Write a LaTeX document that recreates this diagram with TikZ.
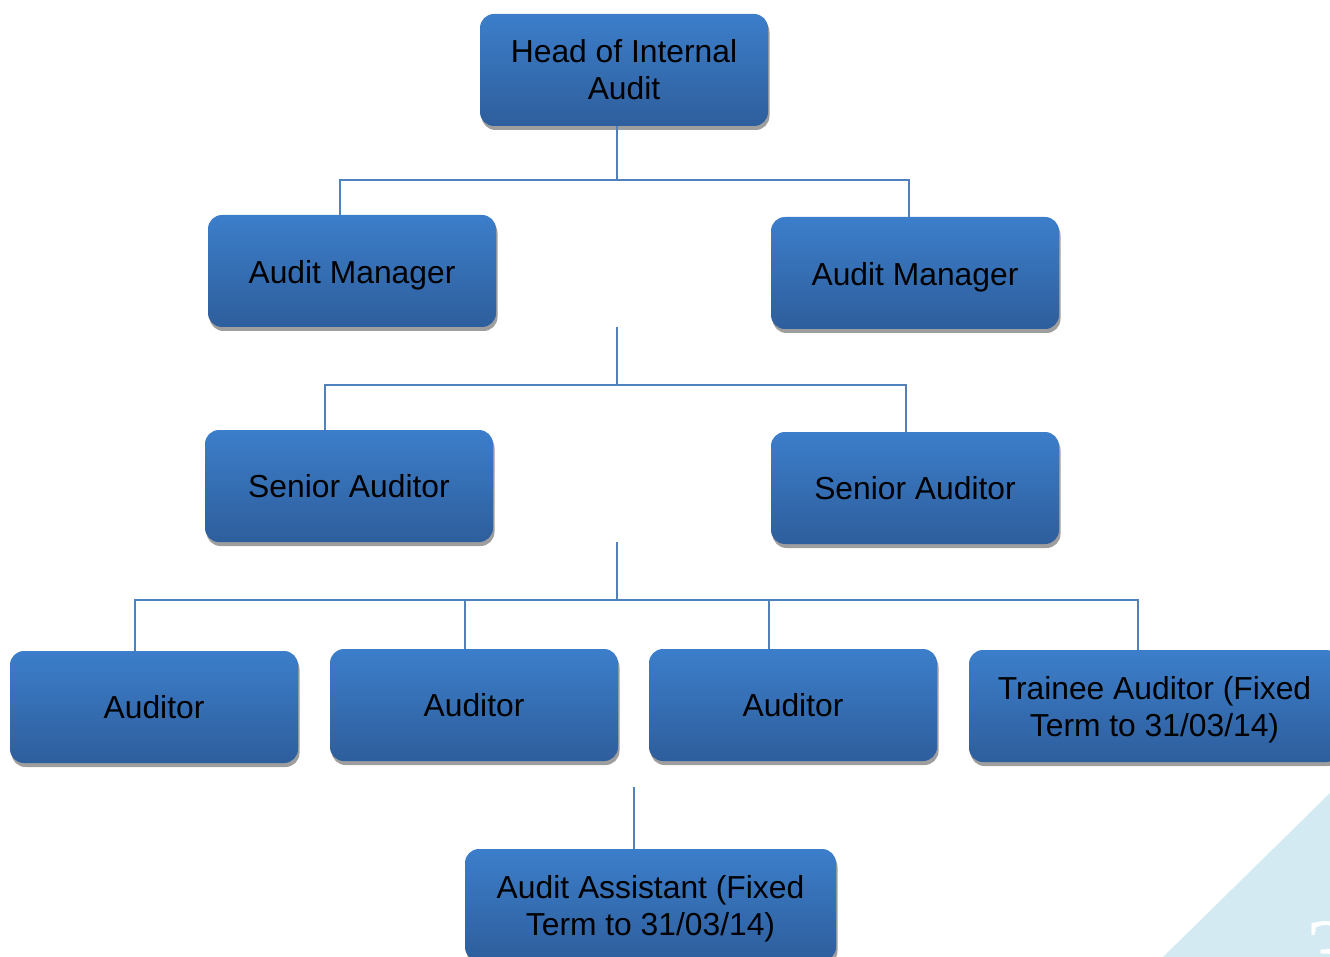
\documentclass[tikz,border=0pt]{standalone}
\usepackage{fontspec}
\setmainfont{Liberation Sans}
\newfontfamily\pgnumfont{Liberation Serif}
\usetikzlibrary{shadows}
\definecolor{boxtop}{RGB}{60,126,202}
\definecolor{boxbot}{RGB}{46,94,156}
\definecolor{conn}{RGB}{79,129,189}
\definecolor{tri}{RGB}{211,234,242}
\newsavebox{\bxbox}
\newcommand{\bxt}[2][-4pt]{\sbox{\bxbox}{\begin{tabular}{@{}c@{}}#2\end{tabular}}\raisebox{#1}[\ht\bxbox][\dp\bxbox]{\usebox{\bxbox}}}
\tikzset{
  orgbox/.style={rectangle, rounded corners=14pt, minimum width=288pt, minimum height=112pt,
    inner sep=0pt, top color=boxtop, bottom color=boxbot, draw=none,
    font=\fontsize{31.8}{37}\selectfont, text=black,
    drop shadow={shadow xshift=1.5pt, shadow yshift=-4pt, fill=black!38, opacity=1}},
  widebox/.style={orgbox, minimum width=371pt},
  link/.style={draw=conn, line width=1.5pt}
}
\begin{document}
\begin{tikzpicture}[x=1pt,y=-1pt]
\useasboundingbox (0,0) rectangle (1330,957);
\clip (0,0) rectangle (1330,957);
% background triangle and page number
\fill[tri] (1330,793) -- (1163,957) -- (1330,957) -- cycle;
\node[anchor=north west, inner sep=0pt, text=white, font=\pgnumfont\fontsize{95}{95}\selectfont] (pg) at (1305,921) {3};
% nodes
\node[orgbox] (head) at (624,70) {\bxt{Head of Internal\\Audit}};
\node[orgbox] (am1) at (352,271) {\bxt[-5pt]{Audit Manager}};
\node[orgbox] (am2) at (915,273) {\bxt[-5pt]{Audit Manager}};
\node[orgbox] (sa1) at (349,486) {\bxt{Senior Auditor}};
\node[orgbox] (sa2) at (915,488) {\bxt{Senior Auditor}};
\node[orgbox] (au1) at (154,707) {\bxt{Auditor}};
\node[orgbox] (au2) at (474,705) {\bxt{Auditor}};
\node[orgbox] (au3) at (793,705) {\bxt{Auditor}};
\node[widebox] (tr) at (1154.5,706) {\bxt[-5pt]{Trainee Auditor (Fixed\\Term to 31/03/14)}};
\node[widebox] (aa) at (650.5,905) {\bxt[-5pt]{Audit Assistant (Fixed\\Term to 31/03/14)}};
% junctions
\coordinate (j1) at (617,180);
\coordinate (j2) at (617,385);
\coordinate (j3) at (617,600);
\coordinate (j4) at (634,787);
\coordinate (t2) at (617,327);
\coordinate (t3) at (617,542);
% connectors
\draw[link] (j1 |- head.south) -- (j1);
\draw[link] (340,0 |- am1.north) -- (340,180) -- (909,180) -- (909,0 |- am2.north);
\draw[link] (t2) -- (j2);
\draw[link] (325,0 |- sa1.north) -- (325,385) -- (906,385) -- (906,0 |- sa2.north);
\draw[link] (t3) -- (j3);
\draw[link] (135,0 |- au1.north) -- (135,600) -- (1138,600) -- (1138,0 |- tr.north);
\draw[link] (465,0 |- au2.north) -- (465,600);
\draw[link] (769,0 |- au3.north) -- (769,600);
\draw[link] (j4) -- (j4 |- aa.north);
\end{tikzpicture}
\end{document}
